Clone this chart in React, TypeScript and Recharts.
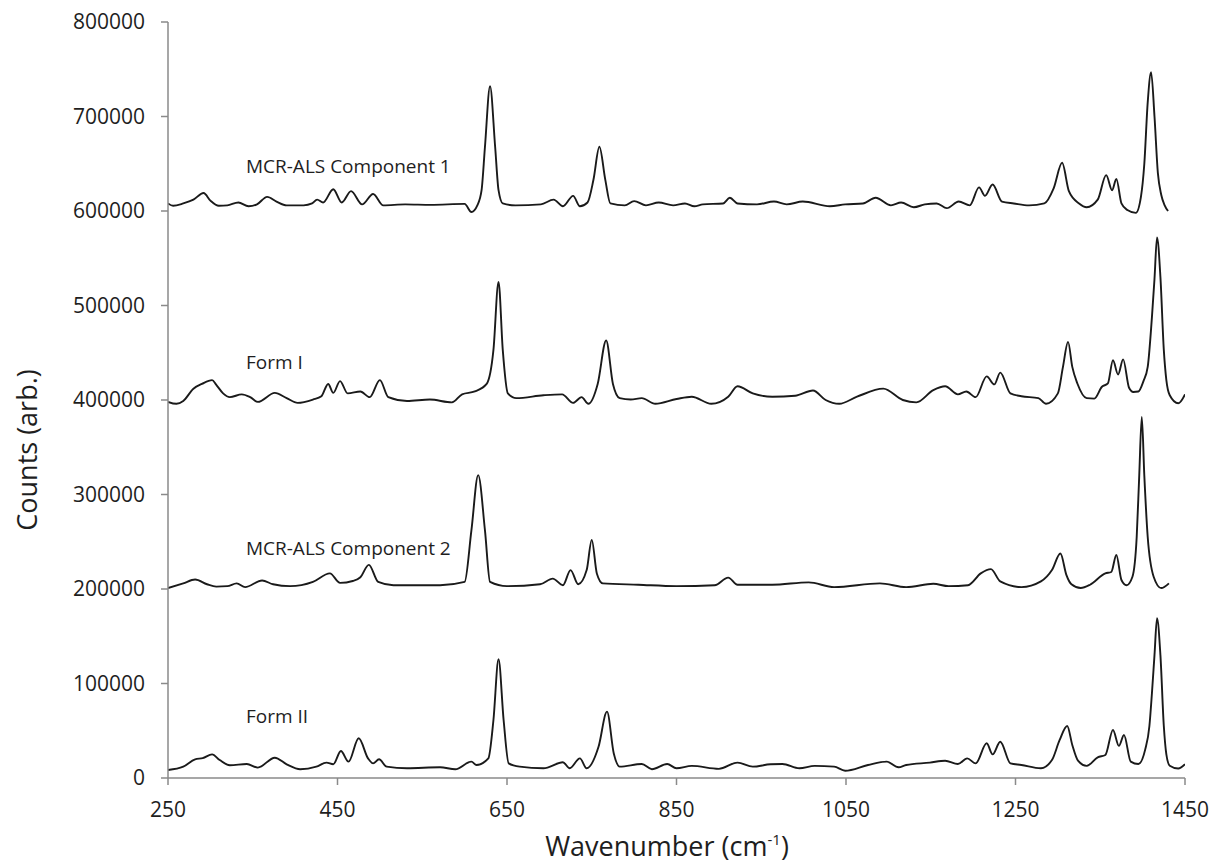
import React from "react";
import {
  LineChart,
  Line,
  XAxis,
  YAxis,
  ReferenceDot,
} from "recharts";

// [wavenumber (cm-1), counts], offsets already included
const component1: [number, number][] = [
  [250, 608000], [256, 605500], [268, 608000], [280, 612000], [292, 619000],
  [300, 611000], [310, 605500], [320, 606000], [333, 609000], [345, 605000],
  [355, 607000], [367, 615000], [378, 610000], [390, 606000], [410, 606000],
  [420, 608000], [426, 612000], [433, 609000], [445, 623000], [455, 609000],
  [466, 621000], [479, 607000], [492, 618000], [504, 606000], [530, 607000],
  [560, 606500], [600, 607500], [608, 599000], [615, 606000], [620, 622000],
  [624, 668000], [630, 732000], [636, 668000], [640, 622000], [645, 608000],
  [660, 606000], [690, 607000], [705, 612000], [716, 605000], [728, 616000],
  [736, 605000], [745, 609000], [752, 633000], [759, 668000], [766, 633000],
  [772, 608000], [789, 606000], [800, 610500], [814, 606000], [829, 609000],
  [846, 606000], [860, 608000], [871, 605000], [881, 607000], [905, 608000],
  [913, 614000], [922, 608000], [945, 607000], [965, 610000], [980, 607000],
  [999, 610000], [1031, 605000], [1049, 607000], [1070, 608000], [1085, 614000],
  [1103, 606000], [1115, 609000], [1130, 604000], [1143, 607000], [1157, 608000],
  [1169, 603000], [1183, 610000], [1196, 606000], [1207, 625000], [1214, 616000],
  [1223, 628000], [1234, 610000], [1248, 608000], [1266, 606000], [1284, 608000],
  [1295, 624000], [1305, 651000], [1313, 621000], [1325, 608000], [1334, 604000],
  [1347, 612000], [1357, 638000], [1364, 622000], [1369, 634000], [1375, 608000],
  [1382, 601000], [1392, 598000], [1398, 615000], [1402, 650000], [1406, 715000],
  [1410, 747000], [1414, 700000], [1418, 640000], [1422, 617000], [1426, 606000],
  [1430, 600000],
];

const formI: [number, number][] = [
  [250, 398000], [260, 396000], [268, 399000], [280, 412000], [290, 417000],
  [302, 421000], [307, 416000], [315, 407000], [323, 403000], [337, 406000],
  [347, 403000], [356, 398000], [376, 407500], [390, 402000], [403, 397000],
  [421, 400500], [431, 404000], [439, 417000], [445, 407500], [453, 420000],
  [462, 407000], [477, 409000], [488, 403000], [500, 421000], [510, 403000],
  [532, 399000], [559, 400500], [585, 397500], [597, 406000], [612, 409000],
  [626, 417000], [634, 453000], [640, 525000], [645, 453000], [651, 407000],
  [661, 402000], [693, 405000], [715, 406000], [728, 397000], [738, 403000],
  [746, 396000], [757, 417000], [767, 463000], [775, 417000], [783, 402000],
  [796, 400500], [809, 402000], [825, 396000], [850, 401000], [868, 403500],
  [891, 396000], [911, 403500], [922, 414500], [940, 407000], [963, 403500],
  [990, 404500], [1011, 410000], [1026, 400000], [1042, 396000], [1063, 403500],
  [1094, 412000], [1117, 400000], [1133, 397500], [1153, 410500], [1167, 414500],
  [1182, 406000], [1192, 409000], [1203, 403000], [1216, 425000], [1225, 416500],
  [1232, 429000], [1244, 407000], [1257, 404000], [1277, 402000], [1286, 396000],
  [1300, 407000], [1306, 435000], [1312, 461500], [1317, 435000], [1323, 417500],
  [1334, 402000], [1343, 401500], [1352, 414000], [1359, 417500], [1365, 442000],
  [1371, 427000], [1377, 443000], [1384, 413000], [1389, 408500], [1395, 409000],
  [1401, 420000], [1406, 435000], [1411, 488000], [1414, 528000], [1417, 572000],
  [1421, 530000], [1425, 453000], [1428, 421000], [1432, 405000], [1442, 396500],
  [1450, 406000],
];

const component2: [number, number][] = [
  [250, 201000], [268, 206000], [282, 210000], [296, 205000], [307, 202500],
  [320, 203000], [331, 206000], [341, 202000], [361, 209000], [374, 205000],
  [394, 203000], [421, 207500], [441, 216500], [453, 206500], [468, 208500],
  [477, 212500], [487, 225500], [498, 207500], [516, 204000], [571, 204000],
  [600, 207500], [608, 262000], [616, 320500], [624, 262000], [630, 207500],
  [650, 203000], [689, 205000], [704, 211000], [716, 204000], [725, 220000],
  [734, 205000], [744, 220000], [750, 252000], [756, 216500], [763, 206000],
  [805, 204500], [850, 203000], [895, 204000], [911, 212000], [922, 204500],
  [963, 204500], [1006, 207000], [1036, 202000], [1090, 206000], [1121, 202000],
  [1153, 205500], [1171, 203000], [1194, 204000], [1209, 216500], [1221, 221000],
  [1232, 208000], [1257, 202000], [1280, 208000], [1293, 220000], [1303, 237500],
  [1310, 215000], [1316, 205000], [1327, 201000], [1338, 204500], [1356, 216500],
  [1363, 218000], [1369, 236000], [1375, 209500], [1381, 204000], [1388, 213000],
  [1393, 255000], [1396, 320000], [1399, 382000], [1402, 320000], [1406, 255000],
  [1413, 213000], [1422, 201000], [1431, 206000],
];

const formII: [number, number][] = [
  [250, 8500], [268, 12000], [282, 19800], [291, 21000], [302, 25000],
  [311, 19000], [323, 13500], [343, 14800], [356, 11000], [376, 21500],
  [390, 14500], [406, 9300], [425, 12000], [437, 16300], [445, 14500],
  [454, 28600], [463, 17300], [475, 42000], [486, 20800], [492, 15500],
  [499, 19800], [508, 12000], [532, 10300], [571, 11300], [589, 9300],
  [608, 17300], [614, 13800], [628, 20800], [634, 61400], [640, 125600],
  [646, 61400], [652, 15500], [665, 12000], [693, 10300], [716, 16600],
  [724, 10300], [736, 20800], [744, 10300], [758, 33000], [768, 70200],
  [776, 26000], [783, 12000], [809, 14800], [821, 9300], [839, 14800],
  [850, 10300], [868, 12800], [900, 9700], [922, 16300], [940, 12000],
  [961, 14500], [975, 14800], [995, 10300], [1013, 12800], [1036, 12000],
  [1049, 7700], [1076, 13800], [1098, 17300], [1112, 11300], [1121, 13800],
  [1149, 16300], [1167, 18300], [1182, 14800], [1193, 20800], [1203, 15500],
  [1216, 36700], [1223, 25000], [1232, 38400], [1244, 15500], [1257, 13800],
  [1280, 10300], [1293, 19000], [1302, 40000], [1311, 55000], [1317, 35000],
  [1324, 18000], [1334, 12800], [1347, 21900], [1356, 24300], [1365, 50800],
  [1372, 34000], [1378, 45500], [1386, 17300], [1395, 14800], [1403, 30000],
  [1408, 55000], [1411, 90000], [1414, 130000], [1417, 169000], [1421, 130000],
  [1425, 55000], [1428, 25000], [1432, 13000], [1442, 10000], [1450, 14500],
];

const xTicks = [250, 450, 650, 850, 1050, 1250, 1450];
const yTicks = [0, 100000, 200000, 300000, 400000, 500000, 600000, 700000, 800000];

// series name, label anchor (wavenumber, counts)
const seriesLabels: [string, number, number][] = [
  ["MCR-ALS Component 1", 342, 647000],
  ["Form I", 342, 440000],
  ["MCR-ALS Component 2", 342, 243000],
  ["Form II", 342, 65000],
];

const toRows = (pts: [number, number][]) => pts.map(([x, y]) => ({ x, y }));

const series = [
  { key: "c1", data: toRows(component1) },
  { key: "f1", data: toRows(formI) },
  { key: "c2", data: toRows(component2) },
  { key: "f2", data: toRows(formII) },
];

const FONT = "'Open Sans', sans-serif";
const AXIS = "#8a8a8a";
const TEXT = "#1e1e1e";

export default function App() {
  return (
    <div style={{ position: "absolute", left: 0, top: 0, background: "#fff" }}>
      <LineChart
        width={1213}
        height={864}
        margin={{ top: 22, right: 28, bottom: 46, left: 78 }}
      >
        <XAxis
          type="number"
          dataKey="x"
          domain={[250, 1450]}
          ticks={xTicks}
          allowDataOverflow
          height={40}
          stroke={AXIS}
          strokeWidth={1.5}
          tickSize={7}
          tickMargin={17}
          tick={{ fontSize: 21, fill: TEXT, fontFamily: FONT }}
          label={{
            content: () => (
              <text
                x={667}
                y={856}
                textAnchor="middle"
                fontSize={27}
                fontFamily={FONT}
                fill={TEXT}
              >
                Wavenumber (cm
                <tspan dy={-11} fontSize={15}>
                  -1
                </tspan>
                <tspan dy={11}>)</tspan>
              </text>
            ),
          }}
        />
        <YAxis
          type="number"
          dataKey="y"
          domain={[0, 800000]}
          ticks={yTicks}
          width={90}
          stroke={AXIS}
          strokeWidth={1.5}
          tickSize={7}
          tickMargin={16}
          tick={{ fontSize: 21, fill: TEXT, fontFamily: FONT }}
          label={{
            content: () => (
              <text
                x={37}
                y={450}
                transform="rotate(-90 37 450)"
                textAnchor="middle"
                fontSize={27}
                fontFamily={FONT}
                fill={TEXT}
              >
                Counts (arb.)
              </text>
            ),
          }}
        />
        {series.map((s) => (
          <Line
            key={s.key}
            data={s.data}
            dataKey="y"
            type="monotone"
            stroke="#1a1a1a"
            strokeWidth={1.9}
            dot={false}
            activeDot={false}
            isAnimationActive={false}
          />
        ))}
        {seriesLabels.map(([name, x, y]) => (
          <ReferenceDot
            key={name}
            x={x}
            y={y}
            r={0}
            fill="none"
            stroke="none"
            label={{
              value: name,
              position: "right",
              offset: 0,
              fontSize: 19,
              fontFamily: FONT,
              fill: TEXT,
            }}
          />
        ))}
      </LineChart>
    </div>
  );
}
